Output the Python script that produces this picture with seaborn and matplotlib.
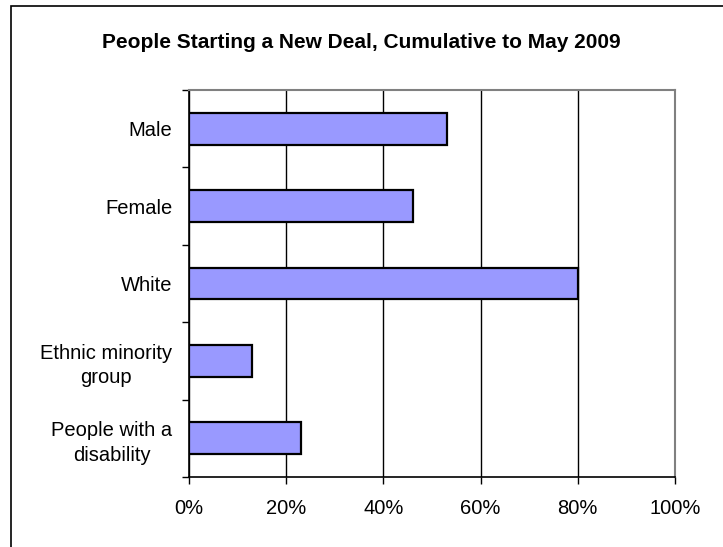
import pandas as pd
import matplotlib.pyplot as plt
import matplotlib.ticker as mticker
from matplotlib.patches import Rectangle
import seaborn as sns

# ── Data ──────────────────────────────────────────
categories = ["Male", "Female", "White", "Ethnic minority\ngroup",
              "People with a\ndisability"]
shares = [53, 46, 80, 13, 23]
x_ticks = [0, 20, 40, 60, 80, 100]

df = pd.DataFrame({"Group": categories, "Share": shares})

# ── Style ─────────────────────────────────────────
sns.set_theme(style="white")
plt.rcParams["font.family"] = ["Liberation Sans", "DejaVu Sans"]
plt.rcParams["text.color"] = "black"
plt.rcParams["xtick.labelcolor"] = "black"
plt.rcParams["ytick.labelcolor"] = "black"
BAR_COLOR = "#9999FF"
LABEL_SIZE = 14.5

fig = plt.figure(figsize=(7.23, 5.47), dpi=100)
fig.patch.set_facecolor("white")
ax = fig.add_axes([189 / 723, 1 - 477 / 547, (675 - 189) / 723, (477 - 90) / 547])

sns.barplot(data=df, x="Share", y="Group", orient="h", color=BAR_COLOR,
            edgecolor="black", linewidth=1.6, width=0.41, saturation=1, ax=ax)

ax.set_xlim(0, 100)
ax.set_ylim(4.5, -0.5)
ax.set_xticks(x_ticks)
ax.xaxis.set_major_formatter(mticker.FuncFormatter(lambda v, _: f"{v:.0f}%"))
ax.grid(axis="x", color="black", linewidth=1)
ax.set_axisbelow(True)
ax.set_xlabel("")
ax.set_ylabel("")

# category boundaries get the tick marks, labels sit between them
ax.set_yticks([i - 0.5 for i in range(len(categories) + 1)], minor=True)
ax.tick_params(axis="y", which="minor", length=5, width=1, color="black", direction="out", left=True)
ax.tick_params(axis="y", which="major", length=0, pad=12, labelsize=LABEL_SIZE, labelcolor="black")
ax.tick_params(axis="x", which="major", length=5, width=1, color="black", direction="out",
               bottom=True, pad=11, labelsize=LABEL_SIZE, labelcolor="black")
for lbl in ax.get_yticklabels():
    lbl.set_multialignment("center")
    lbl.set_linespacing(1.35)

for side in ["left", "bottom"]:
    ax.spines[side].set_color("black")
    ax.spines[side].set_linewidth(1.2)
for side in ["top", "right"]:
    ax.spines[side].set_color("#808080")
    ax.spines[side].set_linewidth(1.5)

fig.text(0.5, 1 - 42 / 547, "People Starting a New Deal, Cumulative to May 2009",
         ha="center", va="center", fontsize=15, fontweight="bold", color="black")

# outer chart border (only left and top visible in the crop)
fig.patches.append(Rectangle((11 / 723, -0.1), 1.2, 1 - 6 / 547 + 0.1,
                             transform=fig.transFigure, fill=False,
                             edgecolor="black", linewidth=1.2))

fig.savefig("out.png", dpi=100)
plt.close(fig)
